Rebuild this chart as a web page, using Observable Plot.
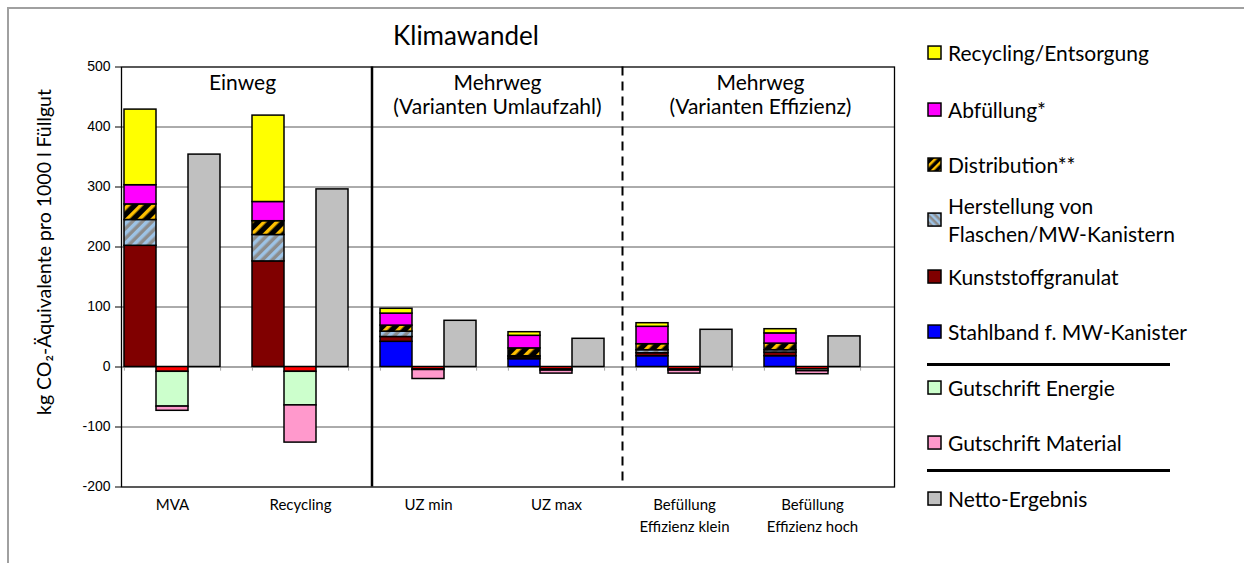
<!DOCTYPE html>
<html><head><meta charset="utf-8">
<script src="https://cdn.jsdelivr.net/npm/d3@7"></script>
<script src="https://cdn.jsdelivr.net/npm/@observablehq/plot@0.6"></script>
<style>
body{margin:0;background:#fff;overflow:hidden}
#wrap{position:relative;width:1244px;height:563px;overflow:hidden;font-family:Lato,"Open Sans",sans-serif;color:#000}
#border{position:absolute;left:7px;top:7px;width:1300px;height:600px;border:2px solid #A0A0A0;box-sizing:border-box}
#title{position:absolute;left:466px;top:19px;transform:translateX(-50%);font-size:26px;white-space:nowrap}
#chart{position:absolute;left:0;top:0}
.lg{position:absolute;left:927px;display:flex;align-items:center;font-size:21px;white-space:nowrap;transform:translateY(-50%)}
.lg svg{margin-right:6px;flex:none}
.lg span{text-align:left;line-height:1.33}
.sep{position:absolute;left:927px;width:243px;height:3px;background:#000}
</style></head>
<body>
<svg width="0" height="0" style="position:absolute">
<defs>
<pattern id="pDist" patternUnits="userSpaceOnUse" width="9" height="9" patternTransform="rotate(45)">
<rect width="9" height="9" fill="#000"/><rect width="3.5" height="9" fill="#FFC000"/></pattern>
<pattern id="pHerst" patternUnits="userSpaceOnUse" width="7" height="7" patternTransform="rotate(45)">
<rect width="7" height="7" fill="#8C8C8C"/><rect width="3.5" height="7" fill="#9DC3E6"/></pattern>
<pattern id="pHerstL" patternUnits="userSpaceOnUse" width="5" height="5" patternTransform="rotate(-45)">
<rect width="5" height="5" fill="#8C8C8C"/><rect width="2.5" height="5" fill="#9DC3E6"/></pattern>
<pattern id="pDistL" patternUnits="userSpaceOnUse" width="6" height="6" patternTransform="rotate(45)">
<rect width="6" height="6" fill="#000"/><rect width="2.5" height="6" fill="#FFC000"/></pattern>
</defs></svg>
<div id="wrap">
<div id="border"></div>
<div id="chart"></div>
<div id="title">Klimawandel</div>
<div id="legend"></div>
</div>
<script>
// ---- data ----
const categories = ["MVA", "Recycling", "UZ min", "UZ max", "Befüllung\nEffizienz klein", "Befüllung\nEffizienz hoch"];
const stahlband          = [0, 0, 42, 13, 18, 18];
const kunststoffgranulat = [202, 176, 8, 3, 5, 6];
const herstellung        = [43, 44, 9, 2, 5, 4];
const distribution       = [26, 23, 10, 13, 10, 11];
const abfuellung         = [32, 32, 20, 21, 29, 17];
const entsorgung         = [126, 144, 8, 6, 6, 7];
const gutschriftSonstige = [-8, -8, -4, -4, -4, -4];
const gutschriftEnergie  = [-58, -56, -1, -2, -2, -3];
const gutschriftMaterial = [-7, -62, -15, -5, -5, -5];
const netto              = [354, 296, 77, 47, 62, 51];
const yTicks = [-200, -100, 0, 100, 200, 300, 400, 500];
const gridValues = [-100, 100, 200, 300, 400];
const groupLabels = ["Einweg", "Mehrweg\n(Varianten Umlaufzahl)", "Mehrweg\n(Varianten Effizienz)"];
const yLabel = "kg CO₂-Äquivalente pro 1000 l Füllgut";

const seriesNames  = ["Stahlband f. MW-Kanister", "Kunststoffgranulat", "Herstellung von Flaschen/MW-Kanistern", "Distribution**", "Abfüllung*", "Recycling/Entsorgung", "Gutschrift sonstige", "Gutschrift Energie", "Gutschrift Material", "Netto-Ergebnis"];
const seriesColors = ["#0000FF", "#800000", "url(#pHerst)", "url(#pDist)", "#FF00FF", "#FFFF00", "#FF0000", "#CCFFCC", "#FF99CC", "#C0C0C0"];

// legend entries (top to bottom)
const legendEntries = [
  {name: "Recycling/Entsorgung", fill: "#FFFF00", y: 53},
  {name: "Abfüllung*", fill: "#FF00FF", y: 110},
  {name: "Distribution**", fill: "url(#pDistL)", y: 165},
  {name: "Herstellung von<br>Flaschen/MW-Kanistern", fill: "url(#pHerstL)", y: 220},
  {name: "Kunststoffgranulat", fill: "#800000", y: 277},
  {name: "Stahlband f. MW-Kanister", fill: "#0000FF", y: 332},
  {name: "Gutschrift Energie", fill: "#CCFFCC", y: 388},
  {name: "Gutschrift Material", fill: "#FF99CC", y: 443},
  {name: "Netto-Ergebnis", fill: "#C0C0C0", y: 499}
];
const legendSeparators = [364, 470];

// ---- build table ----
const posSeries = [[seriesNames[0], stahlband], [seriesNames[1], kunststoffgranulat], [seriesNames[2], herstellung], [seriesNames[3], distribution], [seriesNames[4], abfuellung], [seriesNames[5], entsorgung]];
const negSeries = [[seriesNames[6], gutschriftSonstige], [seriesNames[7], gutschriftEnergie], [seriesNames[8], gutschriftMaterial]];
const rows = [];
categories.forEach((c, i) => {
  posSeries.forEach(([s, v]) => { if (v[i]) rows.push({slot: i * 4, series: s, value: v[i]}); });
  negSeries.forEach(([s, v]) => { if (v[i]) rows.push({slot: i * 4 + 1, series: s, value: v[i]}); });
  rows.push({slot: i * 4 + 2, series: seriesNames[9], value: netto[i]});
});
const slots = d3.range(categories.length * 4);
const startSlots = categories.map((c, i) => i * 4);
const endSlots = categories.map((c, i) => i * 4 + 2);
const labelSlots = categories.map((c, i) => i * 4 + 1);
const half = (1244 - 121 - 350) / slots.length / 2;

const chart = Plot.plot({
  width: 1244, height: 563,
  marginLeft: 121, marginRight: 350, marginTop: 66.5, marginBottom: 76.5,
  x: {type: "band", domain: slots, paddingInner: 0, paddingOuter: 0, axis: null},
  y: {domain: [-200, 500], axis: null},
  color: {type: "ordinal", domain: seriesNames, range: seriesColors},
  style: {fontFamily: "Lato, 'Open Sans', sans-serif", background: "transparent", overflow: "visible"},
  marks: [
    Plot.ruleY(gridValues, {stroke: "#595959", strokeWidth: 1}),
    Plot.ruleY([0], {stroke: "#A6A6A6", strokeWidth: 2}),
    Plot.ruleX(startSlots, {x: d => d, y1: 0, y2: -7, dx: -half, stroke: "#A6A6A6", strokeWidth: 1}),
    Plot.ruleX(endSlots, {x: d => d, y1: 0, y2: -7, dx: half, stroke: "#A6A6A6", strokeWidth: 1}),
    Plot.barY(rows, {x: "slot", y: "value", fill: "series", stroke: "black", strokeWidth: 1.5}),
    Plot.ruleX([7], {x: d => d, dx: 7.5, stroke: "black", strokeWidth: 2.5}),
    Plot.ruleX([15], {x: d => d, dx: 2, stroke: "black", strokeWidth: 2, strokeDasharray: "9,6"}),
    Plot.frame({stroke: "black", strokeWidth: 1.3}),
    Plot.axisY({ticks: yTicks, tickSize: 6, tickPadding: 5, tickFormat: d => String(d), fontSize: 14, fontFamily: "'Liberation Sans', Arial, sans-serif", label: null, stroke: "black"}),
    Plot.axisX({ticks: labelSlots, tickSize: 0, tickPadding: 7, tickFormat: (d) => categories[(d - 1) / 4], fontSize: 15, lineHeight: 1.5, label: null}),
    Plot.text([groupLabels[0]], {x: [3], y: [500], text: d => d, dx: 6, dy: 7, lineAnchor: "top", fontSize: 21, lineHeight: 1.1}),
    Plot.text([groupLabels[1]], {x: [11], y: [500], text: d => d, dx: 5, dy: 7, lineAnchor: "top", fontSize: 21, lineHeight: 1.1}),
    Plot.text([groupLabels[2]], {x: [19], y: [500], text: d => d, dx: 12, dy: 7, lineAnchor: "top", fontSize: 21, lineHeight: 1.1}),
    Plot.text([yLabel], {frameAnchor: "left", textAnchor: "middle", rotate: -90, dx: -77, dy: -25, fontSize: 19.5, text: d => d})
  ]
});
document.getElementById("chart").appendChild(chart);

// legend
const lg = document.getElementById("legend");
legendEntries.forEach(e => {
  const d = document.createElement("div");
  d.className = "lg";
  d.style.top = e.y + "px";
  d.innerHTML = `<svg width="15" height="15"><rect x="1" y="1" width="13" height="13" fill="${e.fill}" stroke="#000" stroke-width="1.5"/></svg><span>${e.name}</span>`;
  lg.appendChild(d);
});
legendSeparators.forEach(y => {
  const s = document.createElement("div");
  s.className = "sep"; s.style.top = (y - 1.5) + "px";
  lg.appendChild(s);
});
</script>
</body></html>
